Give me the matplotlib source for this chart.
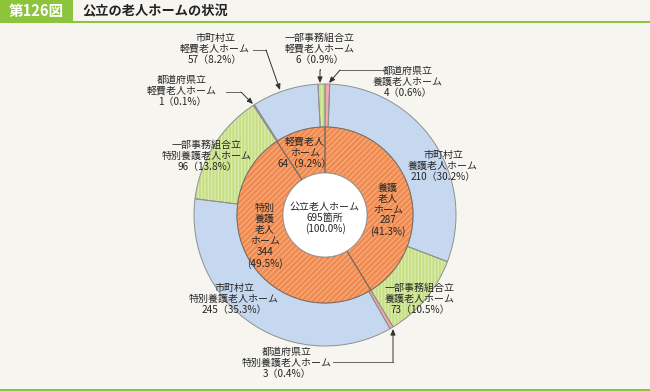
import matplotlib.pyplot as plt
from matplotlib.patches import Circle, FancyBboxPatch, Rectangle

plt.rcParams['font.family'] = ['Noto Sans CJK JP', 'DejaVu Sans']
plt.rcParams['hatch.linewidth'] = 0.9

# outer ring (clockwise from 12 o'clock)
outer_org = ['都道府県立', '市町村立', '一部事務組合立',
             '都道府県立', '市町村立', '一部事務組合立',
             '都道府県立', '市町村立', '一部事務組合立']
outer_type = ['養護老人ホーム', '養護老人ホーム', '養護老人ホーム',
              '特別養護老人ホーム', '特別養護老人ホーム', '特別養護老人ホーム',
              '軽費老人ホーム', '軽費老人ホーム', '軽費老人ホーム']
outer_values = [4, 210, 73, 3, 245, 96, 1, 57, 6]
outer_pcts = [0.6, 30.2, 10.5, 0.4, 35.3, 13.8, 0.1, 8.2, 0.9]

# inner ring
inner_names = ['養護\n老人\nホーム', '特別\n養護\n老人\nホーム', '軽費老人\nホーム']
inner_values = [287, 344, 64]
inner_pcts = [41.3, 49.5, 9.2]

total_label = '公立老人ホーム'
total_value = 695
title_no = '第126図'
title = '公立の老人ホームの状況'

W, H = 650, 391
bg = '#f6f5f0'
green = '#8cc43c'
txt = '#262626'
org_colors = {'都道府県立': '#f3a9a7', '市町村立': '#c6d8ef', '一部事務組合立': '#c6df85'}
org_hatch = {'都道府県立': '', '市町村立': '', '一部事務組合立': '|||||'}
org_hcolor = {'都道府県立': '#f3a9a7', '市町村立': '#c6d8ef', '一部事務組合立': '#dcecb0'}


def Y(y):
    return H - y


fig = plt.figure(figsize=(6.5, 3.91), dpi=100, facecolor=bg)
ax = fig.add_axes([0, 0, 1, 1])
ax.set_facecolor(bg)

cx, cy = 325, Y(215)
r_out, r_mid, r_in = 131, 88, 42

# outer ring fill + hatch
wedges, _ = ax.pie(outer_values, radius=r_out, center=(cx, cy), startangle=90,
                   counterclock=False, colors=[org_colors[o] for o in outer_org],
                   wedgeprops=dict(width=r_out - r_mid, linewidth=0), frame=True)
for w, o in zip(wedges, outer_org):
    w.set_hatch(org_hatch[o])
    w.set_edgecolor(org_hcolor[o])
ax.pie(outer_values, radius=r_out, center=(cx, cy), startangle=90,
       counterclock=False, colors=['none'] * len(outer_values),
       wedgeprops=dict(width=r_out - r_mid, linewidth=0.7, edgecolor='#8f8f8f'), frame=True)

# inner ring
wedges, _ = ax.pie(inner_values, radius=r_mid, center=(cx, cy), startangle=90,
                   counterclock=False, colors=['#f08a4f'] * 3,
                   wedgeprops=dict(width=r_mid - r_in, linewidth=0), frame=True)
for w in wedges:
    w.set_hatch('//////')
    w.set_edgecolor('#f6ad80')
ax.pie(inner_values, radius=r_mid, center=(cx, cy), startangle=90,
       counterclock=False, colors=['none'] * 3,
       wedgeprops=dict(width=r_mid - r_in, linewidth=0.7, edgecolor='#7a6a60'), frame=True)
ax.add_patch(Circle((cx, cy), r_in, facecolor='white', edgecolor='#9a9a9a', lw=0.6, zorder=3))

ax.set_xlim(0, W)
ax.set_ylim(0, H)
ax.set_aspect('auto')
ax.axis('off')

fs = 7.2
ls = 1.12
# outer labels
outer_pos = [(408, 82), (443, 166), (420, 299), (287, 363), (234, 299),
             (207, 156), (182, 91), (215, 49), (320, 49)]
for o, t, v, p, (x, y) in zip(outer_org, outer_type, outer_values, outer_pcts, outer_pos):
    ax.text(x, Y(y), f'{o}\n{t}\n{v}（{p}%）', ha='center', va='center',
            fontsize=fs, color=txt, linespacing=ls, zorder=5)

# inner labels
inner_pos = [(388, 210), (265, 236), (305, 153)]
inner_sep = ['\n', '\n', '（']
for n, v, p, s, (x, y) in zip(inner_names, inner_values, inner_pcts, inner_sep, inner_pos):
    pct = f'\n({p}%)' if s == '\n' else f'（{p}%）'
    ax.text(x, Y(y), f'{n}\n{v}{pct}', ha='center', va='center',
            fontsize=fs, color=txt, linespacing=ls, zorder=5)
ax.text(cx, Y(218), f'{total_label}\n{total_value}箇所\n(100.0%)', ha='center', va='center',
        fontsize=fs, color=txt, linespacing=ls, zorder=5)

# leader lines
leaders = [
    [(253, 50), (266, 50), (280, 90)],
    [(320, 69), (320, 70), (320, 83)],
    [(383, 70), (340, 70), (329, 83)],
    [(226, 92), (241, 92), (253, 104)],
    [(333, 362), (393, 362), (393, 329)],
]
for pts in leaders:
    xs = [p[0] for p in pts[:-1]]
    ys = [Y(p[1]) for p in pts[:-1]]
    ax.plot(xs, ys, color='#666666', lw=0.7, zorder=6)
    ax.annotate('', xy=(pts[-1][0], Y(pts[-1][1])), xytext=(pts[-2][0], Y(pts[-2][1])),
                arrowprops=dict(arrowstyle='-|>,head_length=0.35,head_width=0.15',
                                color='#333333', lw=0.7, shrinkA=0, shrinkB=0), zorder=6)

# title bar
ax.add_patch(FancyBboxPatch((-10, Y(21)), 83, 30, boxstyle='round,pad=0,rounding_size=8',
                            facecolor=green, edgecolor='none', zorder=7))
ax.add_patch(Rectangle((0, Y(22)), 73, 10, facecolor=green, edgecolor='none', zorder=7))
ax.add_patch(Rectangle((0, Y(23)), W, 2, facecolor=green, edgecolor='none', zorder=7))
ax.add_patch(Rectangle((0, 0), W, 2.5, facecolor=green, edgecolor='none', zorder=7))
ax.text(36, Y(11), title_no, ha='center', va='center', fontsize=10.5, color='white',
        fontweight='bold', zorder=8)
ax.text(82, Y(11), title, ha='left', va='center', fontsize=9.5, color='#222222',
        fontweight='bold', zorder=8)

fig.savefig('out.png', dpi=100, facecolor=bg)
